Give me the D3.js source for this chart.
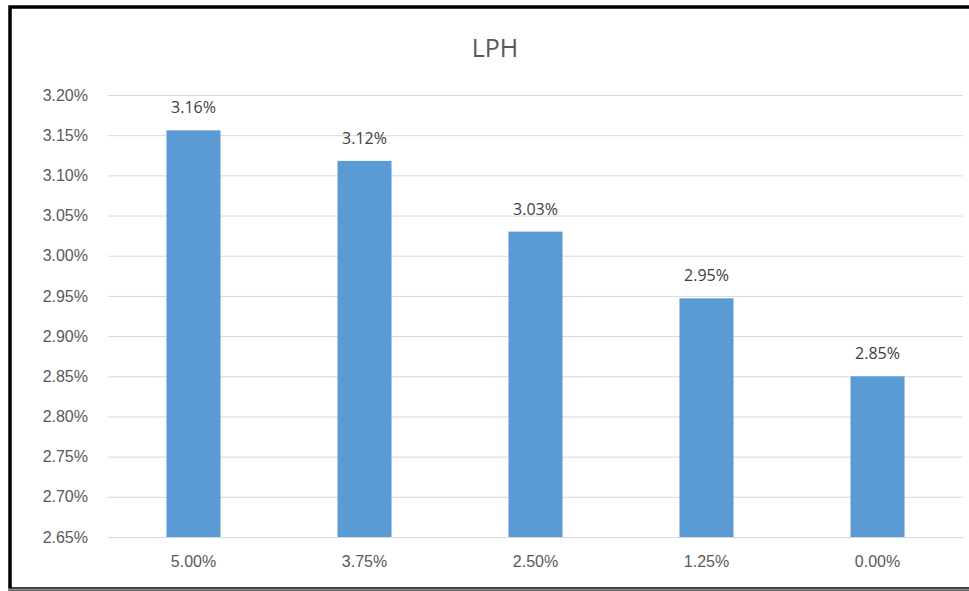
<!DOCTYPE html>
<html>
<head>
<meta charset="utf-8">
<script src="https://cdn.jsdelivr.net/npm/d3@7"></script>
<style>
  html, body { margin: 0; padding: 0; background: #fff; }
  svg { display: block; font-family: "Open Sans", "Liberation Sans", sans-serif; }
</style>
</head>
<body>
<svg id="chart" width="969" height="591"></svg>
<script>
"use strict";

// data
var categories = ["5.00%", "3.75%", "2.50%", "1.25%", "0.00%"];
var values = [3.156, 3.118, 3.030, 2.947, 2.850];
var valueLabels = ["3.16%", "3.12%", "3.03%", "2.95%", "2.85%"];
var yTicks = [2.65, 2.70, 2.75, 2.80, 2.85, 2.90, 2.95, 3.00, 3.05, 3.10, 3.15, 3.20];

var svg = d3.select("#chart");

//
// Frame
//
svg.append("rect")
	.attr("x", 10).attr("y", 7)
	.attr("width", 980).attr("height", 582)
	.attr("fill", "#fff")
	.attr("stroke", "#000")
	.attr("stroke-width", 3.5);
svg.append("line")
	.attr("x1", 8).attr("x2", 969)
	.attr("y1", 589.5).attr("y2", 589.5)
	.attr("stroke", "#8c8c8c").attr("stroke-width", 2);

//
// Scales
//
var plotLeft = 108, plotRight = 963, plotTop = 95, plotBottom = 537;

var x = d3.scaleBand()
	.domain(categories)
	.range([plotLeft, plotRight])
	.paddingInner(0.684)
	.paddingOuter(0.342);

var y = d3.scaleLinear()
	.domain([2.65, 3.20])
	.range([plotBottom, plotTop]);

//
// Title
//
svg.append("text")
	.attr("x", 495).attr("y", 57)
	.attr("text-anchor", "middle")
	.attr("fill", "#595959")
	.style("font-size", "25px")
	.text("LPH");

//
// Gridlines + Y axis
//
var yAxis = d3.axisLeft(y)
	.tickValues(yTicks)
	.tickSize(-(plotRight - plotLeft))
	.tickPadding(20)
	.tickFormat(function(d) { return d.toFixed(2) + "%"; });

var gy = svg.append("g")
	.attr("transform", "translate(" + plotLeft + ",0)")
	.call(yAxis);
gy.select(".domain").remove();
gy.selectAll(".tick line").attr("stroke", "#d9d9d9").attr("stroke-width", 1);
gy.selectAll(".tick text")
	.attr("fill", "#595959")
	.style("font-size", "16px");

//
// X axis
//
var xAxis = d3.axisBottom(x).tickSize(0).tickPadding(19);
var gx = svg.append("g")
	.attr("transform", "translate(0," + plotBottom + ")")
	.call(xAxis);
gx.select(".domain").attr("stroke", "#d9d9d9");
gx.selectAll(".tick text")
	.attr("fill", "#595959")
	.style("font-size", "16px");

//
// Bars
//
var data = categories.map(function(c, i) {
	return { label: c, value: values[i], text: valueLabels[i] };
});

svg.append("g").selectAll(".bar")
	.data(data)
	.enter()
	.append("rect")
	.attr("class", "bar")
	.attr("x", function(d) { return x(d.label); })
	.attr("width", x.bandwidth())
	.attr("y", function(d) { return y(d.value); })
	.attr("height", function(d) { return plotBottom - y(d.value); })
	.attr("fill", "#5b9bd5");

//
// Data labels
//
svg.append("g").selectAll(".lbl")
	.data(data)
	.enter()
	.append("text")
	.attr("class", "lbl")
	.attr("x", function(d) { return x(d.label) + x.bandwidth() / 2; })
	.attr("y", function(d) { return y(d.value) - 17; })
	.attr("text-anchor", "middle")
	.attr("fill", "#404040")
	.style("font-size", "16px")
	.text(function(d) { return d.text; });
</script>
</body>
</html>
